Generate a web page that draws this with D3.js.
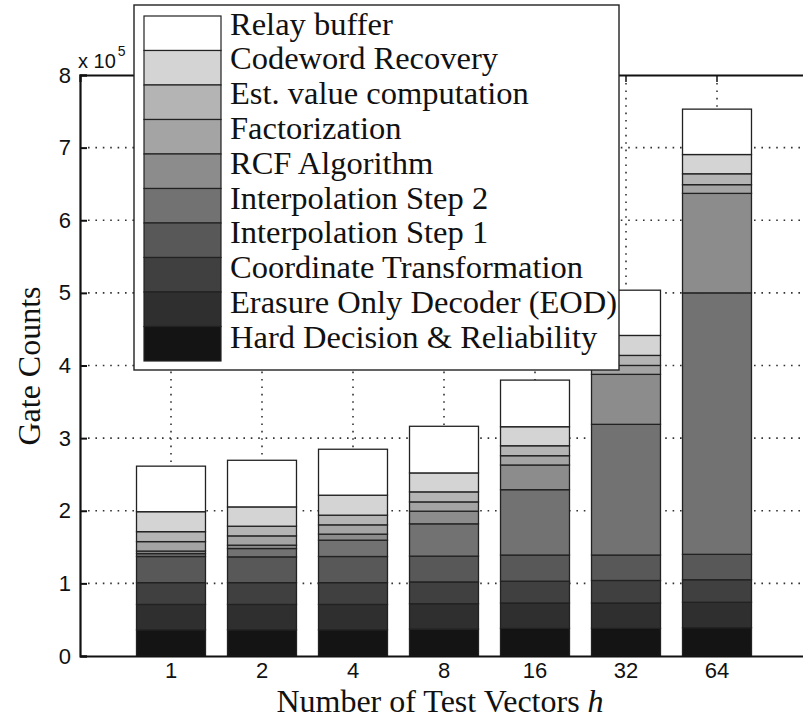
<!DOCTYPE html>
<html><head><meta charset="utf-8">
<script src="https://cdn.jsdelivr.net/npm/d3@7"></script>
<style>body{margin:0;background:#fff;} svg{display:block;}</style>
</head><body>
<svg id="chart" width="803" height="721"></svg>
<script>
// ---- data ----
const categories = ["1", "2", "4", "8", "16", "32", "64"];
const seriesNames = ["Hard Decision & Reliability", "Erasure Only Decoder (EOD)", "Coordinate Transformation",
  "Interpolation Step 1", "Interpolation Step 2", "RCF Algorithm", "Factorization",
  "Est. value computation", "Codeword Recovery", "Relay buffer"];
const hardDecision   = [36000, 36000, 36000, 37000, 38000, 38000, 39000];
const erasureOnly    = [35000, 35000, 35000, 35000, 35000, 35000, 35000];
const coordTransform = [30000, 30000, 30000, 30000, 30000, 31000, 31000];
const interpStep1    = [36000, 35500, 36000, 35500, 36000, 35000, 35000];
const interpStep2    = [4000, 11500, 22500, 44500, 90000, 180000, 360000];
const rcfAlgorithm   = [3500, 4600, 8300, 17400, 34000, 68800, 137000];
const factorization  = [13000, 12800, 12800, 12800, 12800, 12300, 12000];
const estValue       = [13700, 13300, 13300, 13800, 13700, 13800, 15000];
const codewordRec    = [27500, 26600, 27500, 26100, 26200, 27500, 26500];
const relayBuffer    = [62700, 64200, 63300, 64200, 64200, 62300, 62500];
const yTickValues = [0, 100000, 200000, 300000, 400000, 500000, 600000, 700000, 800000];
const yTickLabels = ["0", "1", "2", "3", "4", "5", "6", "7", "8"];
const colors = ["#141414", "#2f2f2f", "#404040", "#585858", "#727272", "#8c8c8c", "#a4a4a4", "#b4b4b4", "#d4d4d4", "#ffffff"];

const seriesArrays = [hardDecision, erasureOnly, coordTransform, interpStep1, interpStep2,
  rcfAlgorithm, factorization, estValue, codewordRec, relayBuffer];
const table = categories.map((c, i) => {
  const row = {cat: c};
  seriesNames.forEach((s, k) => row[s] = seriesArrays[k][i]);
  return row;
});

// ---- layout ----
const svg = d3.select("#chart");
const pL = 80, pR = 808, pT = 75, pB = 656;
const x = d3.scaleBand().domain(categories).range([pL, pR]).paddingInner(0.242).paddingOuter(0.621);
const y = d3.scaleLinear().domain([0, 800000]).range([pB, pT]);
const color = d3.scaleOrdinal().domain(seriesNames).range(colors);

// grid
const grid = svg.append("g").attr("stroke", "#333").attr("stroke-width", 1.6)
  .attr("stroke-dasharray", "1.6,5.8").attr("fill", "none");
grid.selectAll("line.h").data(yTickValues.slice(1, -1)).join("line").attr("class", "h")
  .attr("x1", pL + 8).attr("x2", pR).attr("y1", d => y(d)).attr("y2", d => y(d));
grid.selectAll("line.v").data(categories).join("line").attr("class", "v")
  .attr("x1", d => x(d) + x.bandwidth() / 2).attr("x2", d => x(d) + x.bandwidth() / 2)
  .attr("y1", pT + 8).attr("y2", pB);

// bars
const stacked = d3.stack().keys(seriesNames)(table);
svg.append("g").selectAll("g").data(stacked).join("g")
  .attr("fill", d => color(d.key))
  .selectAll("rect").data(d => d).join("rect")
  .attr("x", d => x(d.data.cat))
  .attr("width", x.bandwidth())
  .attr("y", d => y(d[1]))
  .attr("height", d => y(d[0]) - y(d[1]))
  .attr("stroke", "#222").attr("stroke-width", 1.3);

// axes frame
const axG = svg.append("g")
  .attr("transform", `translate(${pL},0)`)
  .call(d3.axisLeft(y).tickValues(yTickValues).tickSize(-7).tickPadding(9)
    .tickFormat((d, i) => yTickLabels[i]));
axG.select(".domain").attr("stroke", "#111").attr("stroke-width", 2.2);
axG.selectAll(".tick line").attr("stroke", "#111").attr("stroke-width", 2);
axG.selectAll(".tick text").attr("font-family", "Liberation Sans, Arial, sans-serif")
  .attr("font-size", 22).attr("fill", "#111");

const axB = svg.append("g")
  .attr("transform", `translate(0,${pB})`)
  .call(d3.axisBottom(x).tickSize(0).tickPadding(6));
axB.select(".domain").attr("stroke", "#111").attr("stroke-width", 2.2);
axB.selectAll(".tick text").attr("font-family", "Liberation Sans, Arial, sans-serif")
  .attr("font-size", 22).attr("fill", "#111");

const axT = svg.append("g")
  .attr("transform", `translate(0,${pT})`)
  .call(d3.axisTop(x).tickSize(-7).tickFormat(""));
axT.select(".domain").attr("stroke", "#111").attr("stroke-width", 2.2);
axT.selectAll(".tick line").attr("stroke", "#111").attr("stroke-width", 1.5);

// exponent label
const expo = svg.append("text").attr("x", pL - 2).attr("y", 68)
  .attr("font-family", "Liberation Sans, Arial, sans-serif").attr("font-size", 20).attr("fill", "#111");
expo.append("tspan").text("x 10");
expo.append("tspan").attr("font-size", 14).attr("dy", -12).attr("dx", 2).text("5");

// axis titles
svg.append("text").attr("transform", "translate(40,366) rotate(-90)")
  .attr("text-anchor", "middle").attr("font-family", "Liberation Serif, Times New Roman, serif")
  .attr("font-size", 32).attr("fill", "#111").text("Gate Counts");
const xt = svg.append("text").attr("x", 440).attr("y", 712).attr("text-anchor", "middle")
  .attr("font-family", "Liberation Serif, Times New Roman, serif").attr("font-size", 32).attr("fill", "#111");
xt.append("tspan").text("Number of Test Vectors ");
xt.append("tspan").attr("font-style", "italic").text("h");

// legend
const lg = svg.append("g");
lg.append("rect").attr("x", 134).attr("y", 5).attr("width", 485).attr("height", 365)
  .attr("fill", "#fff").attr("stroke", "#222").attr("stroke-width", 1.4);
const legendOrder = seriesNames.slice().reverse();
lg.selectAll("rect.sw").data(legendOrder).join("rect").attr("class", "sw")
  .attr("x", 144).attr("width", 77)
  .attr("y", (d, i) => 16 + i * 34.5).attr("height", 34.5)
  .attr("fill", d => color(d)).attr("stroke", "#222").attr("stroke-width", 1.2);
lg.selectAll("text").data(legendOrder).join("text")
  .attr("x", 230).attr("y", (d, i) => 34.5 + i * 34.8)
  .attr("font-family", "Liberation Serif, Times New Roman, serif").attr("font-size", 32.5)
  .attr("fill", "#111").text(d => d);
</script>
</body></html>
